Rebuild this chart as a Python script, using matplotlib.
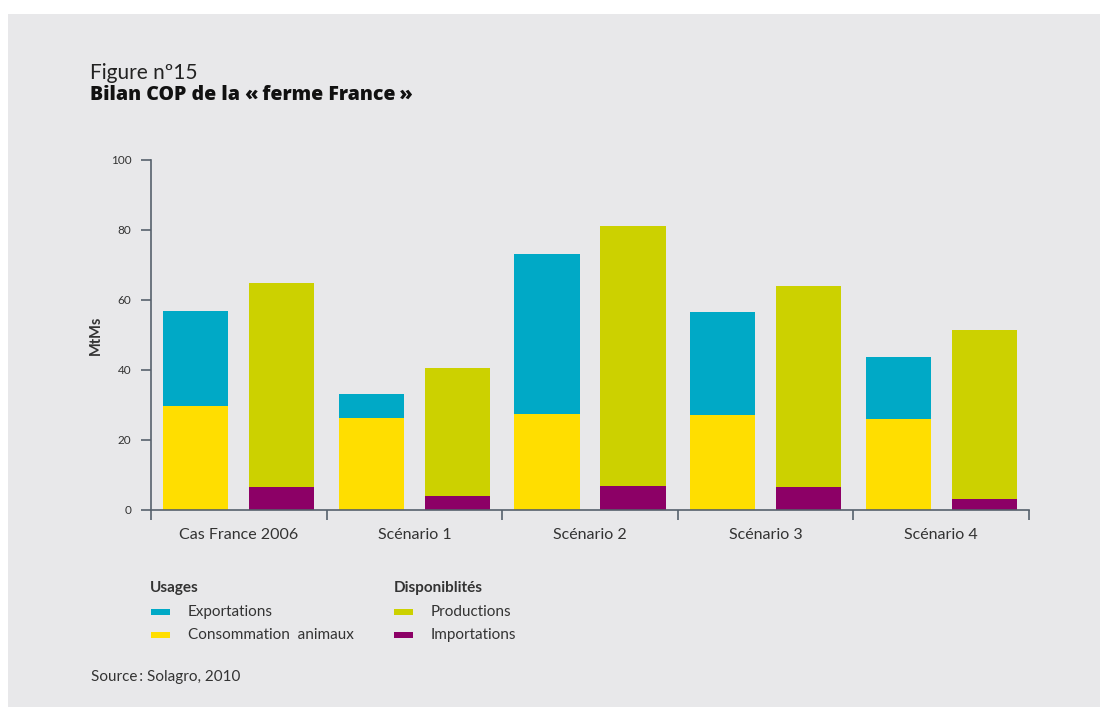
import matplotlib.pyplot as plt
from matplotlib.patches import Rectangle
import numpy as np

plt.rcParams['font.family'] = ['Lato', 'DejaVu Sans']

categories = ['Cas France 2006', 'Scénario 1', 'Scénario 2', 'Scénario 3', 'Scénario 4']
consommation = [29.7, 26.3, 27.4, 27.1, 26.0]
exportations = [27.2, 6.8, 45.7, 29.5, 17.7]
importations = [6.6, 4.0, 6.9, 6.6, 3.1]
productions = [58.3, 36.6, 74.2, 57.4, 48.3]

c_exp = '#00a9c6'
c_cons = '#ffde00'
c_prod = '#ccd100'
c_imp = '#8c0066'
c_axis = '#56616c'
c_text = '#333333'

W, H = 1100, 707
fig = plt.figure(figsize=(W / 100, H / 100), dpi=100, facecolor='white')
fig.patches.append(Rectangle((8 / W, 0), 1, 1 - 14 / H, transform=fig.transFigure,
                             facecolor='#e8e8ea', edgecolor='none', zorder=-10))

ax = fig.add_axes([151 / W, (H - 510) / H, (1029 - 151) / W, 350 / H])
ax.set_facecolor('none')
ax.set_zorder(5)

x = np.arange(len(categories)) + 0.5
off, bw = 0.245, 0.372
ax.bar(x - off, consommation, bw, color=c_cons, zorder=2)
ax.bar(x - off, exportations, bw, bottom=consommation, color=c_exp, zorder=2)
ax.bar(x + off, importations, bw, color=c_imp, zorder=2)
ax.bar(x + off, productions, bw, bottom=importations, color=c_prod, zorder=2)

ax.set_xlim(0, len(categories))
ax.set_ylim(0, 100)
ax.set_yticks(range(0, 101, 20))
ax.set_xticks(range(len(categories) + 1))
ax.set_xticklabels([])
ax.set_xticks(x, minor=True)
ax.set_xticklabels(categories, minor=True, fontsize=11.5, color=c_text)
ax.tick_params(axis='x', which='major', length=7, width=1.2, color=c_axis, direction='out')
ax.tick_params(axis='x', which='minor', length=0, pad=13)
ax.tick_params(axis='y', length=7, width=1.2, color=c_axis, labelsize=8.5, labelcolor=c_text, pad=7)
for s in ['top', 'right']:
    ax.spines[s].set_visible(False)
for s in ['left', 'bottom']:
    ax.spines[s].set_color(c_axis)
    ax.spines[s].set_linewidth(1.2)
ax.set_ylabel('MtMs', fontsize=10.5, fontweight='bold', color=c_text, labelpad=6)


def ftext(px, py, s, **kw):
    fig.text(px / W, 1 - py / H, s, **kw)


ftext(90, 79, 'Figure nº15', fontsize=15, color='#222222', va='baseline')
ftext(90, 100, 'Bilan COP de la «\u2009ferme France\u2009»', fontsize=14, fontweight='heavy',
      family=['Open Sans', 'DejaVu Sans'], color='#111111', va='baseline')

ftext(150, 588, 'Usages', fontsize=11, fontweight='bold', color=c_text, va='center')
ftext(394, 588, 'Disponiblités', fontsize=11, fontweight='bold', color=c_text, va='center')

legend_items = [(151, 612, c_exp, 'Exportations'), (151, 635, c_cons, 'Consommation  animaux'),
                (394, 612, c_prod, 'Productions'), (394, 635, c_imp, 'Importations')]
for lx, ly, col, lab in legend_items:
    fig.patches.append(Rectangle((lx / W, 1 - (ly + 3) / H), 19 / W, 6 / H,
                                 transform=fig.transFigure, facecolor=col, edgecolor='none'))
    ftext(lx + 37, ly, lab, fontsize=11, color=c_text, va='center')

ftext(91, 677, 'Source\u2009: Solagro, 2010', fontsize=11, color=c_text, va='center')

fig.savefig('out.png', dpi=100, facecolor=fig.get_facecolor())
